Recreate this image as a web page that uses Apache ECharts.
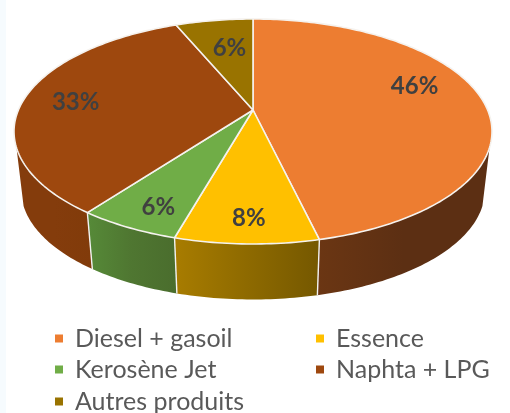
<!DOCTYPE html>
<html><head><meta charset="utf-8">
<style>html,body{margin:0;padding:0;background:#fff}#c{width:510px;height:413px}</style>
<script src="https://cdn.jsdelivr.net/npm/echarts@6/dist/echarts.min.js"></script>
</head><body><div id="c"></div>
<script>
const categories = ['Diesel + gasoil','Essence','Kerosène Jet','Naphta + LPG','Autres produits'];
const values = [46.3,8.1,5.8,33.5,6.3];
const labels = ['46%','8%','6%','33%','6%'];

const topColors = ['#ED7D31','#FFC000','#70AD47','#9E480E','#997300'];
const sideStops = [
  ['#6B3613','#5C2F13','#5C2F13'],
  ['#A87C00','#8E6A00','#755800'],
  ['#568A38','#4F7631','#4A6D2D'],
  ['#843C0C','#843C0C','#813B0A'],
  ['#997300','#997300','#997300']
];
const labelOffsets = [[1,-15],[0,21],[-12,20],[-17,1],[5,4]];
const legendSlots = [[55,326],[316,326],[55,357],[316,357],[55,389]];

// projected disc
const G = {cx:253, cy:110, a:234.6, b:108.4, k:0.191, shrink:0.97, depth:59.5};
function topPt(phi, r){
  const u=r*Math.sin(phi), v=-r*Math.cos(phi), w=1-G.k*v;
  return [G.cx+G.a*u/w, G.cy+G.b*v/w];
}
function lowPt(phi){
  const p=topPt(phi,1);
  return [G.cx+(p[0]-G.cx)*G.shrink, G.cy+(p[1]-G.cy)*G.shrink+G.depth];
}
const total=values.reduce((s,v)=>s+v,0);
const starts=[];values.reduce((s,v,i)=>{starts[i]=s;return s+v},0);
const ang=v=>v/total*Math.PI*2;
const WALL_FROM=109*Math.PI/180, WALL_TO=251*Math.PI/180;
function arc(a0,a1,fn){
  const n=Math.max(2,Math.ceil((a1-a0)/(Math.PI/180)));
  const o=[];for(let j=0;j<=n;j++)o.push(fn(a0+(a1-a0)*j/n));return o;
}
function renderSide(params,api){
  const i=params.seriesIndex, v=api.value(0);
  const a0=ang(starts[i]), a1=a0+ang(v);
  const f=Math.max(a0,WALL_FROM), t=Math.min(a1,WALL_TO);
  if(f>=t) return {type:'group',children:[]};
  const up=arc(f,t,x=>topPt(x,1)), low=arc(f,t,lowPt).reverse();
  const kids=[{type:'polygon',shape:{points:up.concat(low)},
    style:{fill:{type:'linear',x:0,y:0,x2:1,y2:0,colorStops:sideStops[i].map((c,j)=>({offset:j/2,color:c}))}}}];
  if(a1<WALL_TO && a1>WALL_FROM){
    const p=topPt(a1,1),q=lowPt(a1);
    kids.push({type:'line',z2:5,shape:{x1:p[0],y1:p[1],x2:q[0],y2:q[1]},style:{stroke:'#F2F2F2',lineWidth:1.4}});
  }
  return {type:'group',children:kids};
}
function renderTop(params,api){
  const i=params.seriesIndex-categories.length, v=api.value(0);
  const a0=ang(starts[i]), a1=a0+ang(v);
  const rim=arc(a0,a1,x=>topPt(x,1));
  const c=topPt(0,0);
  const mid=(a0+a1)/2, la=topPt(mid,0.7), off=labelOffsets[i];
  return {type:'group',children:[
    {type:'polygon',shape:{points:[c].concat(rim)},
     style:{fill:topColors[i],stroke:'#F5F2EE',lineWidth:1.6,lineJoin:'round'}},
    {type:'text',z2:10,style:{text:labels[i],x:la[0]+off[0],y:la[1]+off[1],align:'center',verticalAlign:'middle',
      fill:'#404040',font:'bold 24px Lato'}}
  ]};
}
const series=[];
categories.forEach((n,i)=>series.push({type:'custom',name:'_side'+i,coordinateSystem:'none',z:1,silent:true,
  animation:false,data:[[values[i]]],renderItem:renderSide,itemStyle:{color:topColors[i]}}));
categories.forEach((n,i)=>series.push({type:'custom',name:n,coordinateSystem:'none',z:2,silent:true,
  animation:false,data:[[values[i]]],renderItem:renderTop,itemStyle:{color:topColors[i]}}));
const legend=categories.map((n,i)=>({orient:'horizontal',icon:'rect',itemWidth:8,itemHeight:8,selectedMode:false,padding:0,
  left:legendSlots[i][0],top:legendSlots[i][1],data:[n],
  textStyle:{color:'#595959',fontFamily:'Lato',fontSize:25,padding:[0,0,0,7],lineHeight:22}}));
const chart=echarts.init(document.getElementById('c'),null,{renderer:'canvas'});
chart.setOption({animation:false,backgroundColor:'#fff',series,legend,
  graphic:[{type:'rect',silent:true,z:0,shape:{x:0,y:0,width:6,height:413},style:{fill:'#F6FBFE'}}]});
</script></body></html>
